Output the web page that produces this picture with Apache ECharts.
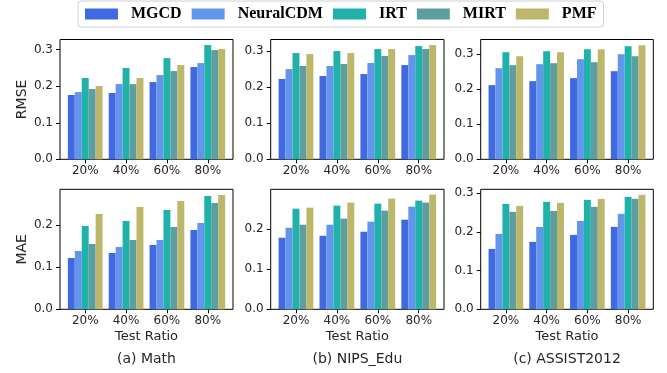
<!DOCTYPE html>
<html>
<head>
<meta charset="utf-8">
<script src="https://cdn.jsdelivr.net/npm/echarts@6/dist/echarts.min.js"></script>
<style>
html,body{margin:0;padding:0;background:#fff;}
#chart{width:667px;height:373px;}
</style>
</head>
<body>
<div id="chart"></div>
<script>
const categories = ['20%', '40%', '60%', '80%'];
const methods = ['MGCD', 'NeuralCDM', 'IRT', 'MIRT', 'PMF'];
const panelTitles = ['(a) Math', '(b) NIPS_Edu', '(c) ASSIST2012'];
const metricNames = ['RMSE', 'MAE'];
const xAxisName = 'Test Ratio';
const yTickValues = [0.0, 0.1, 0.2, 0.3];

// each row: one method (MGCD, NeuralCDM, IRT, MIRT, PMF), values at 20/40/60/80%
const mathRMSE = [
  [0.176, 0.1815, 0.2115, 0.2526],
  [0.184, 0.206, 0.2307, 0.2635],
  [0.2225, 0.250, 0.277, 0.3128],
  [0.1924, 0.206, 0.2416, 0.299],
  [0.2006, 0.2225, 0.258, 0.3018]
];
const nipsRMSE = [
  [0.2225, 0.2308, 0.2363, 0.2612],
  [0.250, 0.2585, 0.2668, 0.2889],
  [0.2945, 0.300, 0.3055, 0.3138],
  [0.2585, 0.264, 0.2862, 0.3055],
  [0.2917, 0.2945, 0.3055, 0.3166]
];
const assistRMSE = [
  [0.2117, 0.2231, 0.2317, 0.2516],
  [0.260, 0.2715, 0.2858, 0.300],
  [0.3057, 0.3085, 0.3142, 0.3228],
  [0.2687, 0.2744, 0.2772, 0.2943],
  [0.2943, 0.3057, 0.3142, 0.3256]
];
const mathMAE = [
  [0.1217, 0.1336, 0.1526, 0.1881],
  [0.1383, 0.1478, 0.1644, 0.2047],
  [0.1976, 0.2095, 0.2356, 0.2688],
  [0.155, 0.1644, 0.1953, 0.2522],
  [0.2261, 0.2427, 0.2569, 0.2711]
];
const nipsMAE = [
  [0.1783, 0.1833, 0.1933, 0.2233],
  [0.2033, 0.2108, 0.2183, 0.2558],
  [0.2508, 0.2583, 0.2633, 0.2708],
  [0.2108, 0.2258, 0.2458, 0.2658],
  [0.2533, 0.2658, 0.2758, 0.2858]
];
const assistMAE = [
  [0.156, 0.1741, 0.1922, 0.2129],
  [0.1948, 0.2129, 0.2284, 0.2466],
  [0.2724, 0.2776, 0.2828, 0.2905],
  [0.2517, 0.2543, 0.2647, 0.2853],
  [0.2672, 0.275, 0.2853, 0.2957]
];
const yMaxRMSE = [0.328, 0.332, 0.342];
const yMaxMAE = [0.2846, 0.299, 0.310];

const colors = ['#4169E1', '#6495ED', '#20B2AA', '#5F9EA0', '#BDB76B'];
const textColor = '#262626';
const tickFont = 'DejaVu Sans';

const panels = [
  {data: mathRMSE, max: yMaxRMSE[0], row: 0, col: 0},
  {data: nipsRMSE, max: yMaxRMSE[1], row: 0, col: 1},
  {data: assistRMSE, max: yMaxRMSE[2], row: 0, col: 2},
  {data: mathMAE, max: yMaxMAE[0], row: 1, col: 0},
  {data: nipsMAE, max: yMaxMAE[1], row: 1, col: 1},
  {data: assistMAE, max: yMaxMAE[2], row: 1, col: 2}
];

// layout (pixels)
const frameLeft = [60, 270.7, 480.7];
const frameWidth = [173, 173.3, 172.6];
const rowTop = [39.5, 189.3];
const rowHeight = [119.8, 120];
const inset = 0.1175 / 4.235; // matplotlib x-margin fraction

const grid = [], xAxis = [], yAxis = [], series = [];
panels.forEach((p, i) => {
  const fl = frameLeft[p.col], fw = frameWidth[p.col];
  const ins = fw * inset;
  const top = rowTop[p.row], h = rowHeight[p.row];
  const ticks = yTickValues.filter(v => v <= p.max);
  // frame grid
  grid.push({left: fl, top: top, width: fw, height: h, show: true,
    borderColor: '#000', borderWidth: 1, backgroundColor: 'transparent'});
  // data grid
  grid.push({left: fl + ins, top: top, width: fw - 2 * ins, height: h});
  const fg = 2 * i, dg = 2 * i + 1;
  xAxis.push({type: 'value', gridIndex: fg, show: false, min: 0, max: 1});
  yAxis.push({type: 'value', gridIndex: fg, min: 0, max: p.max,
    axisLine: {show: false},
    axisTick: {show: true, length: 4, customValues: ticks, lineStyle: {color: '#000', width: 1}},
    splitLine: {show: false},
    axisLabel: {margin: 7, color: textColor, fontFamily: tickFont, fontSize: 12,
      customValues: ticks, formatter: v => v.toFixed(1)},
    name: p.col === 0 ? metricNames[p.row] : '',
    nameLocation: 'middle', nameGap: 31, nameRotate: 90,
    nameTextStyle: {color: textColor, fontFamily: tickFont, fontSize: 14}
  });
  xAxis.push({type: 'category', gridIndex: dg, data: categories,
    axisLine: {show: false},
    axisTick: {show: true, alignWithLabel: true, length: 4, lineStyle: {color: '#000', width: 1}},
    axisLabel: {margin: 6, color: textColor, fontFamily: tickFont, fontSize: 12},
    name: p.row === 1 ? xAxisName : '',
    nameLocation: 'middle', nameGap: 21,
    nameTextStyle: {color: textColor, fontFamily: tickFont, fontSize: 13}
  });
  yAxis.push({type: 'value', gridIndex: dg, min: 0, max: p.max, show: false});
  methods.forEach((m, k) => {
    series.push({
      type: 'bar', name: m, xAxisIndex: 2 * i + 1, yAxisIndex: 2 * i + 1,
      data: p.data[k], barWidth: '17%', barGap: '0%',
      itemStyle: {color: colors[k]}, animation: false
    });
  });
});

const graphic = panelTitles.map((t, c) => ({
  type: 'text', x: frameLeft[c] + frameWidth[c] / 2, y: 359,
  style: {text: t, textAlign: 'center', textVerticalAlign: 'middle',
    fill: textColor, font: '14px "DejaVu Sans"'}
}));

const chart = echarts.init(document.getElementById('chart'), null, {renderer: 'canvas'});
chart.setOption({
  backgroundColor: '#fff',
  animation: false,
  color: colors,
  legend: {
    data: methods, left: 78, top: 1,
    padding: [5, 7, 5, 7],
    itemWidth: 33, itemHeight: 11, itemGap: 10, icon: 'rect',
    borderColor: '#d0d0d0', borderWidth: 1, borderRadius: 3,
    textStyle: {fontFamily: 'Liberation Serif', fontWeight: 'bold', fontSize: 16,
      color: '#000', padding: [0, 0, 0, 8]}
  },
  grid: grid, xAxis: xAxis, yAxis: yAxis, series: series, graphic: graphic
});
</script>
</body>
</html>
